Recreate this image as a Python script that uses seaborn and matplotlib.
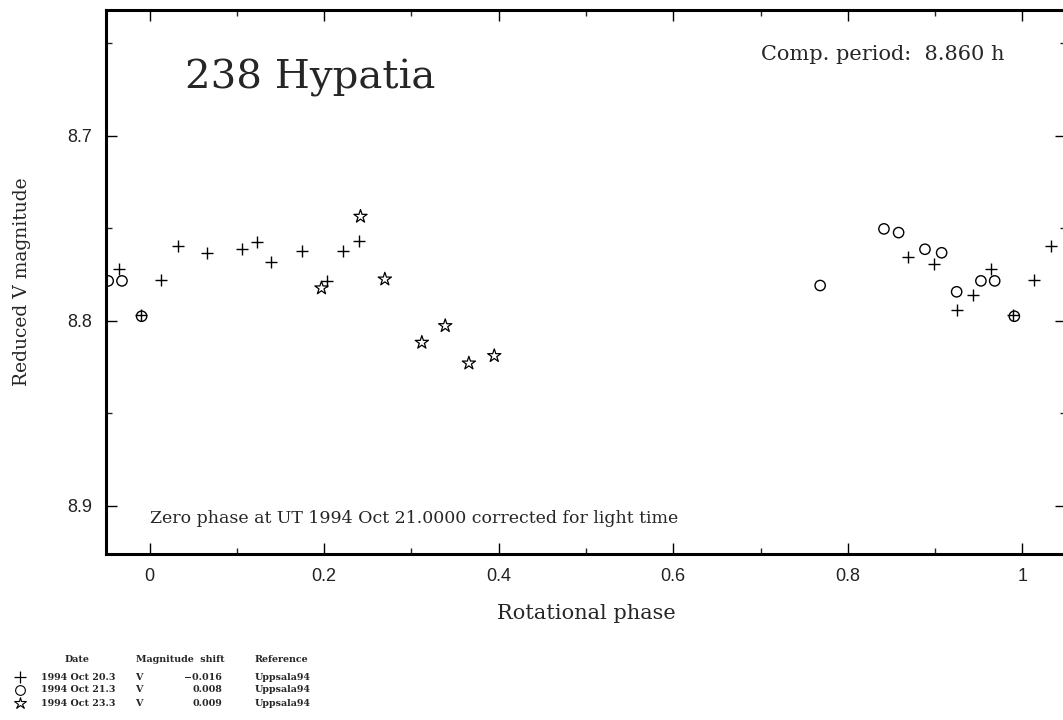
import numpy as np
import pandas as pd
import matplotlib
matplotlib.use("Agg")
import matplotlib.pyplot as plt
from matplotlib.ticker import MultipleLocator
import seaborn as sns

# ---- data (phase in 0..1, reduced V magnitude) ----
plus_phase = [0.0134, 0.0325, 0.0657, 0.1063, 0.1227, 0.1391, 0.1747, 0.2037,
              0.2213, 0.2397, 0.8689, 0.8991, 0.9247, 0.9438, 0.9644, 0.9897]
plus_mag = [8.7778, 8.7598, 8.7631, 8.7613, 8.7573, 8.7681, 8.7625, 8.7784,
            8.7625, 8.7566, 8.7656, 8.7692, 8.7942, 8.7858, 8.7719, 8.7971]

circ_phase = [0.7683, 0.8414, 0.8582, 0.8884, 0.9075, 0.9247, 0.9525, 0.9683, 0.9908]
circ_mag = [8.7809, 8.7503, 8.7523, 8.7613, 8.7632, 8.7843, 8.7784, 8.7784, 8.7975]

star_phase = [0.1969, 0.2416, 0.2695, 0.3119, 0.3387, 0.3658, 0.3949]
star_mag = [8.7823, 8.7436, 8.7775, 8.8117, 8.8027, 8.8229, 8.8189]

session_dates = ["1994 Oct 20.3", "1994 Oct 21.3", "1994 Oct 23.3"]
session_filter = ["V", "V", "V"]
session_shift = ["\u22120.016", "0.008", "0.009"]
session_ref = ["Uppsala94", "Uppsala94", "Uppsala94"]

x_ticks = [0, 0.2, 0.4, 0.6, 0.8, 1]
x_tick_labels = ["0", "0.2", "0.4", "0.6", "0.8", "1"]
y_ticks = [8.7, 8.8, 8.9]
y_tick_labels = ["8.7", "8.8", "8.9"]

XMIN, XMAX = -0.05, 1.05


def wrapped(phase, mag):
    rows = []
    for p, m in zip(phase, mag):
        for shift in (-1, 0, 1):
            q = p + shift
            if XMIN - 0.001 <= q <= XMAX:
                rows.append((q, m))
    return pd.DataFrame(rows, columns=["phase", "mag"])


sns.set_theme(style="white")
plt.rcParams["font.family"] = ["DejaVu Serif", "Liberation Serif"]

fig = plt.figure(figsize=(10.63, 7.2), dpi=100)
ax = fig.add_axes([106 / 1063, 1 - 554 / 720, (1066 - 106) / 1063, (554 - 10) / 720])

sns.scatterplot(data=wrapped(plus_phase, plus_mag), x="phase", y="mag", marker="+",
                s=70, color="black", linewidth=1.0, ax=ax, legend=False)
sns.scatterplot(data=wrapped(circ_phase, circ_mag), x="phase", y="mag", marker="o",
                s=55, facecolor="none", edgecolor="black", linewidth=1.0, ax=ax, legend=False)
sns.scatterplot(data=wrapped(star_phase, star_mag), x="phase", y="mag", marker="*",
                s=100, facecolor="none", edgecolor="black", linewidth=0.9, ax=ax, legend=False)

ax.set_xlim(XMIN, XMAX)
ax.set_ylim(8.926, 8.632)

ax.set_xticks(x_ticks)
ax.set_xticklabels(x_tick_labels)
ax.set_yticks(y_ticks)
ax.set_yticklabels(y_tick_labels)
ax.xaxis.set_minor_locator(MultipleLocator(0.1))
ax.yaxis.set_minor_locator(MultipleLocator(0.05))
ax.tick_params(which="major", direction="in", length=8, width=1.0, top=True, right=True,
               bottom=True, left=True, labelsize=13, pad=10, colors="black")
ax.tick_params(which="minor", direction="in", length=4, width=1.0, top=True, right=True,
               bottom=True, left=True)
for lab in ax.get_xticklabels() + ax.get_yticklabels():
    lab.set_family(["Liberation Sans", "DejaVu Sans"])
    lab.set_color("#222222")

for sp in ax.spines.values():
    sp.set_linewidth(2.2)
    sp.set_color("black")
    sp.set_visible(True)

ax.set_xlabel("Rotational phase", fontsize=15, labelpad=14)
ax.set_ylabel("Reduced V magnitude", fontsize=13.5, labelpad=26)

ax.text(0.0401, 8.6688, "238 Hypatia", fontsize=29, ha="left", va="center")
ax.text(0.700, 8.6563, "Comp. period:  8.860 h", fontsize=15, ha="left", va="center")
ax.text(0.0, 8.907, "Zero phase at UT 1994 Oct 21.0000 corrected for light time",
        fontsize=12.5, ha="left", va="center")

# bottom legend table (figure coords in pixels)
W, H = 1063, 720


def fx(px):
    return px / W


def fy(py):
    return 1 - py / H


bold = dict(fontsize=6.8, fontweight="bold", va="center")
fig.text(fx(77), fy(660), "Date", ha="center", **bold)
fig.text(fx(180), fy(660), "Magnitude  shift", ha="center", **bold)
fig.text(fx(281), fy(660), "Reference", ha="center", **bold)
markers = ["+", "o", "*"]
for i in range(3):
    y = fy(677 + 13 * i)
    if markers[i] == "+":
        fig.lines.append(plt.Line2D([fx(20)], [y], marker="+", markersize=8, color="black",
                                    markeredgewidth=0.9, transform=fig.transFigure))
    else:
        fig.lines.append(plt.Line2D([fx(20)], [y], marker=markers[i],
                                    markersize=7 if markers[i] == "o" else 9,
                                    markerfacecolor="none", markeredgecolor="black",
                                    markeredgewidth=0.8, transform=fig.transFigure))
    fig.text(fx(41), y, session_dates[i], ha="left", **bold)
    fig.text(fx(135), y, session_filter[i], ha="left", **bold)
    fig.text(fx(222), y, session_shift[i], ha="right", **bold)
    fig.text(fx(255), y, session_ref[i], ha="left", **bold)

fig.savefig("out.png", dpi=100)
